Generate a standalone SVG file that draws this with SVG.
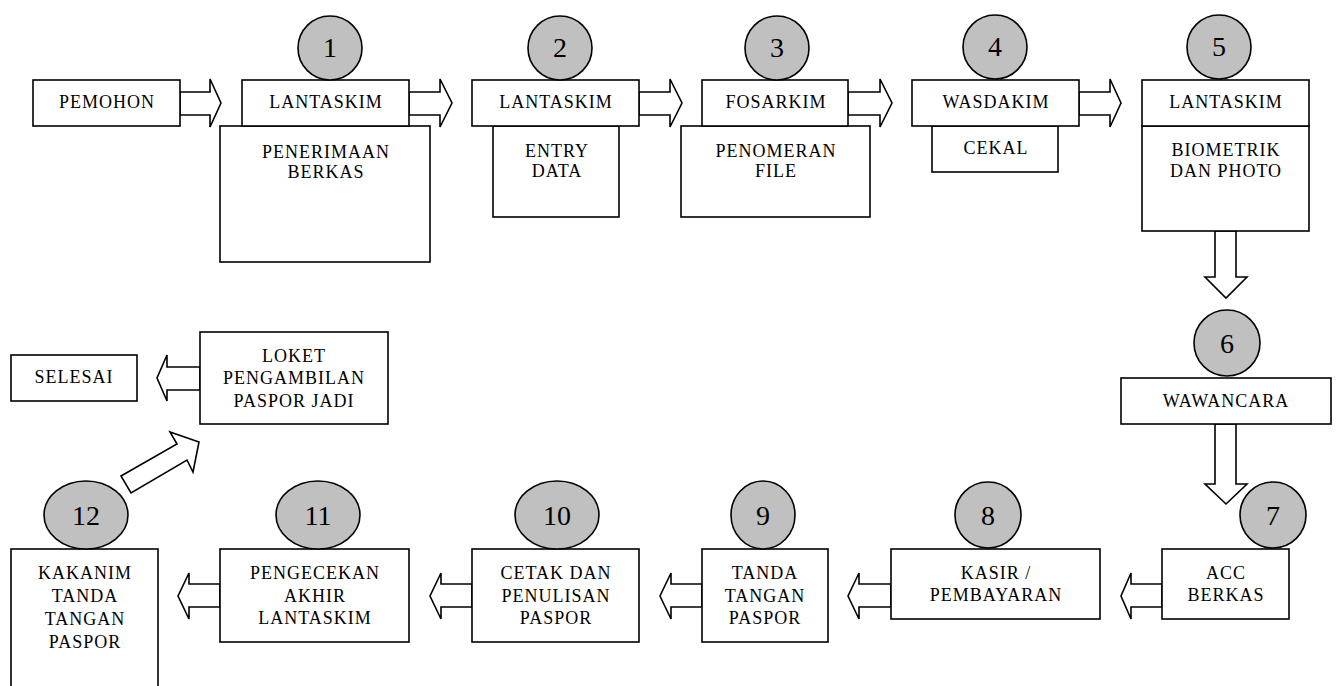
<svg xmlns="http://www.w3.org/2000/svg" width="1336" height="686" viewBox="0 0 1336 686">
<style>
.box{fill:#fff;stroke:#000;stroke-width:1.6}
.arr{fill:#fff;stroke:#000;stroke-width:1.6;stroke-linejoin:miter}
.num{fill:#c0c0c0;stroke:#000;stroke-width:1.6}
.t{font-size:18px;letter-spacing:1px;text-anchor:middle;fill:#000}
.n{font-size:28px;text-anchor:middle;fill:#000}
</style>
<rect width="1336" height="686" fill="#fff"/>
<g id="connectors">
<polygon class="arr" points="180,92 210,92 210,79 221,103 210,127 210,115 180,115"/>
<polygon class="arr" points="409,92 440,92 440,79 452,103 440,127 440,115 409,115"/>
<polygon class="arr" points="639,92 670,92 670,79 682,103 670,127 670,115 639,115"/>
<polygon class="arr" points="848,92 880,92 880,79 892,103 880,127 880,115 848,115"/>
<polygon class="arr" points="1079,92 1110,92 1110,79 1121,103 1110,127 1110,115 1079,115"/>
<polygon class="arr" points="1215,231 1236,231 1236,277 1247,277 1226,298 1205,277 1215,277"/>
<polygon class="arr" points="1215,424 1236,424 1236,484 1247,484 1226,504 1205,484 1215,484"/>
<polygon class="arr" points="1162,584 1131,584 1131,573 1121,596 1131,619 1131,607 1162,607"/>
<polygon class="arr" points="891,584 859,584 859,573 848,596 859,619 859,607 891,607"/>
<polygon class="arr" points="702,584 671,584 671,573 660,596 671,619 671,607 702,607"/>
<polygon class="arr" points="472,584 441,584 441,573 430,596 441,619 441,607 472,607"/>
<polygon class="arr" points="220,584 189,584 189,573 178,596 189,619 189,607 220,607"/>
<polygon class="arr" points="200,367 167,367 167,355 157,378 167,401 167,390 200,390"/>
<polygon class="arr" points="121,476 177,444 170,432 199,442 193,472 187,460 131,493"/>
</g>
<g font-family="Liberation Serif, serif">
<g id="pemohon">
<rect class="box" x="33" y="80" width="147" height="46"/>
<text class="t" x="107" y="108">PEMOHON</text>
</g>
<g id="step1">
<rect class="box" x="220" y="126" width="210" height="136"/>
<rect class="box" x="242" y="80" width="167" height="46"/>
<circle class="num" cx="330" cy="48" r="32"/>
<text class="n" x="330" y="57">1</text>
<text class="t" x="326" y="108">LANTASKIM</text>
<text class="t" x="326" y="158">PENERIMAAN</text>
<text class="t" x="326" y="178">BERKAS</text>
</g>
<g id="step2">
<rect class="box" x="493" y="126" width="126" height="91"/>
<rect class="box" x="472" y="80" width="167" height="46"/>
<circle class="num" cx="560" cy="48" r="32"/>
<text class="n" x="560" y="57">2</text>
<text class="t" x="556" y="108">LANTASKIM</text>
<text class="t" x="557" y="157">ENTRY</text>
<text class="t" x="557" y="177">DATA</text>
</g>
<g id="step3">
<rect class="box" x="681" y="126" width="189" height="91"/>
<rect class="box" x="702" y="80" width="146" height="46"/>
<circle class="num" cx="777" cy="48" r="32"/>
<text class="n" x="777" y="57">3</text>
<text class="t" x="776" y="108">FOSARKIM</text>
<text class="t" x="776" y="157">PENOMERAN</text>
<text class="t" x="776" y="177">FILE</text>
</g>
<g id="step4">
<rect class="box" x="932" y="126" width="126" height="46"/>
<rect class="box" x="912" y="80" width="167" height="46"/>
<circle class="num" cx="995" cy="47" r="32"/>
<text class="n" x="995" y="56">4</text>
<text class="t" x="996" y="108">WASDAKIM</text>
<text class="t" x="996" y="154">CEKAL</text>
</g>
<g id="step5">
<rect class="box" x="1142" y="126" width="167" height="105"/>
<rect class="box" x="1142" y="80" width="167" height="46"/>
<circle class="num" cx="1219" cy="47" r="32"/>
<text class="n" x="1219" y="56">5</text>
<text class="t" x="1226" y="108">LANTASKIM</text>
<text class="t" x="1226" y="156">BIOMETRIK</text>
<text class="t" x="1226" y="177">DAN PHOTO</text>
</g>
<g id="step6">
<rect class="box" x="1121" y="378" width="210" height="46"/>
<circle class="num" cx="1227" cy="343" r="33"/>
<text class="n" x="1227" y="353">6</text>
<text class="t" x="1226" y="407">WAWANCARA</text>
</g>
<g id="step7">
<rect class="box" x="1162" y="549" width="127" height="70"/>
<circle class="num" cx="1273" cy="515" r="33"/>
<text class="n" x="1273" y="525">7</text>
<text class="t" x="1226" y="579">ACC</text>
<text class="t" x="1226" y="601">BERKAS</text>
</g>
<g id="step8">
<rect class="box" x="891" y="549" width="209" height="70"/>
<circle class="num" cx="988" cy="515" r="33"/>
<text class="n" x="988" y="525">8</text>
<text class="t" x="996" y="579">KASIR /</text>
<text class="t" x="996" y="601">PEMBAYARAN</text>
</g>
<g id="step9">
<rect class="box" x="702" y="549" width="126" height="93"/>
<ellipse class="num" cx="763" cy="515" rx="32" ry="34"/>
<text class="n" x="763" y="525">9</text>
<text class="t" x="765" y="579">TANDA</text>
<text class="t" x="765" y="602">TANGAN</text>
<text class="t" x="765" y="624">PASPOR</text>
</g>
<g id="step10">
<rect class="box" x="472" y="549" width="167" height="93"/>
<ellipse class="num" cx="557" cy="515" rx="42" ry="34"/>
<text class="n" x="557" y="525">10</text>
<text class="t" x="556" y="579">CETAK DAN</text>
<text class="t" x="556" y="602">PENULISAN</text>
<text class="t" x="556" y="624">PASPOR</text>
</g>
<g id="step11">
<rect class="box" x="220" y="549" width="189" height="93"/>
<ellipse class="num" cx="318" cy="515" rx="42" ry="34"/>
<text class="n" x="318" y="525">11</text>
<text class="t" x="315" y="579">PENGECEKAN</text>
<text class="t" x="315" y="602">AKHIR</text>
<text class="t" x="315" y="624">LANTASKIM</text>
</g>
<g id="step12">
<rect class="box" x="11" y="549" width="147" height="150"/>
<ellipse class="num" cx="86" cy="515" rx="42" ry="34"/>
<text class="n" x="86" y="525">12</text>
<text class="t" x="85" y="579">KAKANIM</text>
<text class="t" x="85" y="602">TANDA</text>
<text class="t" x="85" y="625">TANGAN</text>
<text class="t" x="85" y="648">PASPOR</text>
</g>
<g id="loket">
<rect class="box" x="200" y="332" width="188" height="92"/>
<text class="t" x="294" y="362">LOKET</text>
<text class="t" x="294" y="384">PENGAMBILAN</text>
<text class="t" x="294" y="407">PASPOR JADI</text>
</g>
<g id="selesai">
<rect class="box" x="11" y="355" width="126" height="46"/>
<text class="t" x="74" y="383">SELESAI</text>
</g>
</g>
</svg>
